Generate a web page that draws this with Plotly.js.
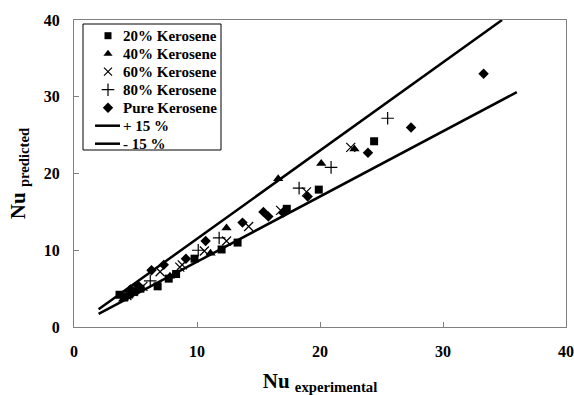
<!DOCTYPE html>
<html>
<head>
<meta charset="utf-8">
<script src="https://cdn.plot.ly/plotly-3.0.1.min.js"></script>
<style>html,body{margin:0;padding:0;background:#fff;}#chart{width:574px;height:395px;}</style>
</head>
<body>
<div id="chart"></div>
<script>
// 20% Kerosene
const k20X = [3.7, 4.1, 4.5, 4.9, 5.4, 6.8, 7.7, 8.3, 9.8, 12.0, 13.3, 17.3, 19.9, 24.4];
const k20Y = [4.2, 3.9, 4.3, 4.6, 5.0, 5.3, 6.3, 6.9, 8.9, 10.1, 11.0, 15.4, 17.9, 24.2];
// 40% Kerosene
const k40X = [4.0, 4.4, 4.8, 7.8, 11.1, 12.4, 16.6, 20.1, 22.8];
const k40Y = [3.6, 4.0, 4.5, 6.6, 9.6, 12.9, 19.3, 21.3, 23.2];
// 60% Kerosene
const k60X = [4.3, 4.8, 5.6, 7.0, 8.6, 8.8, 10.6, 12.4, 14.2, 16.8, 18.9, 22.5];
const k60Y = [4.1, 4.6, 5.3, 7.2, 7.8, 8.1, 9.9, 11.2, 13.1, 15.2, 17.6, 23.4];
// 80% Kerosene
const k80X = [4.5, 5.2, 6.2, 10.1, 11.8, 18.3, 20.9, 25.5];
const k80Y = [4.6, 5.2, 6.0, 10.0, 11.6, 18.1, 20.8, 27.2];
// Pure Kerosene
const pureX = [4.6, 5.2, 6.3, 7.3, 9.1, 10.7, 13.7, 15.4, 15.8, 17.0, 19.0, 23.9, 27.4, 33.3];
const pureY = [4.9, 5.4, 7.4, 8.1, 8.9, 11.2, 13.6, 15.0, 14.4, 14.9, 17.0, 22.7, 26.0, 33.0];
// +15 % and -15 % lines
const upperX = [2, 34.8];
const upperY = [2.3, 40];
const lowerX = [2, 36];
const lowerY = [1.7, 30.6];

const seriesNames = ['20% Kerosene', '40% Kerosene', '60% Kerosene', '80% Kerosene', 'Pure Kerosene'];
const lineNames = ['+ 15 %', '- 15 %'];

const xTicks = [0, 10, 20, 30, 40];
const yTicks = [0, 10, 20, 30, 40];

const serif = 'Liberation Serif, Times New Roman, serif';

// plot area geometry (pixels) for the hand-built legend
const W = 574, H = 395, ML = 74, MR = 8, MT = 20, MB = 68;
const PW = W - ML - MR, PH = H - MT - MB;
const px = p => (p - ML) / PW;
const py = p => (H - MB - p) / PH;

const styles = [
  {symbol: 'square', size: 8, lw: 0, lsize: 7},
  {symbol: 'triangle-up', size: 9, lw: 0, lsize: 8},
  {symbol: 'x-thin-open', size: 9, lw: 1.2, lsize: 8},
  {symbol: 'cross-thin-open', size: 9, lw: 1.2, lsize: 9},
  {symbol: 'diamond', size: 8, lw: 0, lsize: 8}
];
const seriesX = [k20X, k40X, k60X, k80X, pureX];
const seriesY = [k20Y, k40Y, k60Y, k80Y, pureY];

const traces = [];
seriesNames.forEach((n, i) => {
  const s = styles[i];
  traces.push({
    x: seriesX[i], y: seriesY[i], name: n, type: 'scatter', mode: 'markers', showlegend: false,
    marker: {symbol: s.symbol, size: s.size, color: '#000', line: {color: '#000', width: s.lw}}
  });
});
traces.push({x: upperX, y: upperY, name: lineNames[0], type: 'scatter', mode: 'lines', showlegend: false, line: {color: '#000', width: 2.5}});
traces.push({x: lowerX, y: lowerY, name: lineNames[1], type: 'scatter', mode: 'lines', showlegend: false, line: {color: '#000', width: 2.5}});

// legend rows
const rowTop = 35.7, rowStep = 18, symX = 108, textX = 121, lineX0 = 95, lineX1 = 120;
const shapes = [{
  type: 'rect', xref: 'paper', yref: 'paper',
  x0: px(83), x1: px(221), y0: py(24), y1: py(150),
  line: {color: '#000', width: 1}, fillcolor: 'rgba(0,0,0,0)'
}];
const annotations = [];
seriesNames.forEach((n, i) => {
  const s = styles[i];
  const yy = py(rowTop + i * rowStep);
  traces.push({
    x: [px(symX)], y: [yy], xaxis: 'x2', yaxis: 'y2', type: 'scatter', mode: 'markers', showlegend: false,
    hoverinfo: 'skip',
    marker: {symbol: s.symbol, size: s.lsize, color: '#000', line: {color: '#000', width: s.lw}}
  });
  annotations.push({xref: 'paper', yref: 'paper', x: px(textX), y: yy, xanchor: 'left', yanchor: 'middle',
    text: '<b>' + n + '</b>', showarrow: false, font: {family: serif, size: 15, color: '#000'}});
});
lineNames.forEach((n, j) => {
  const yy = py(rowTop + (5 + j) * rowStep);
  shapes.push({type: 'line', xref: 'paper', yref: 'paper', x0: px(lineX0), x1: px(lineX1), y0: yy, y1: yy,
    line: {color: '#000', width: 2.5}});
  annotations.push({xref: 'paper', yref: 'paper', x: px(lineX1 + 0.5), y: yy, xanchor: 'left', yanchor: 'middle',
    text: '<b>' + n + '</b>', showarrow: false, font: {family: serif, size: 15, color: '#000'}});
});

const axisCommon = {
  showgrid: false, zeroline: false, showline: true, mirror: true,
  linecolor: '#808080', linewidth: 1,
  ticks: 'inside', ticklen: 5, tickcolor: '#808080',
  tickfont: {family: serif, size: 16, color: '#000', weight: 'bold'},
  fixedrange: true
};

const layout = {
  width: W, height: H,
  margin: {l: ML, r: MR, t: MT, b: MB},
  paper_bgcolor: '#fff', plot_bgcolor: '#fff',
  showlegend: false,
  shapes: shapes,
  annotations: annotations,
  xaxis: Object.assign({}, axisCommon, {
    range: [0, 40], tickmode: 'array', tickvals: xTicks, ticktext: xTicks.map(String),
    ticklabelstandoff: 10,
    title: {text: '<b>Nu </b><b><sub>experimental</sub></b>', font: {family: serif, size: 21, color: '#000'}, standoff: 14}
  }),
  yaxis: Object.assign({}, axisCommon, {
    range: [0, 40], tickmode: 'array', tickvals: yTicks, ticktext: yTicks.map(String),
    ticklabelstandoff: 10,
    title: {text: '<b>Nu </b><b><sub>predicted</sub></b>', font: {family: serif, size: 21, color: '#000'}, standoff: 12}
  }),
  xaxis2: {overlaying: 'x', range: [0, 1], visible: false, fixedrange: true},
  yaxis2: {overlaying: 'y', range: [0, 1], visible: false, fixedrange: true}
};

Plotly.newPlot('chart', traces, layout, {staticPlot: true, displayModeBar: false});
</script>
</body>
</html>
